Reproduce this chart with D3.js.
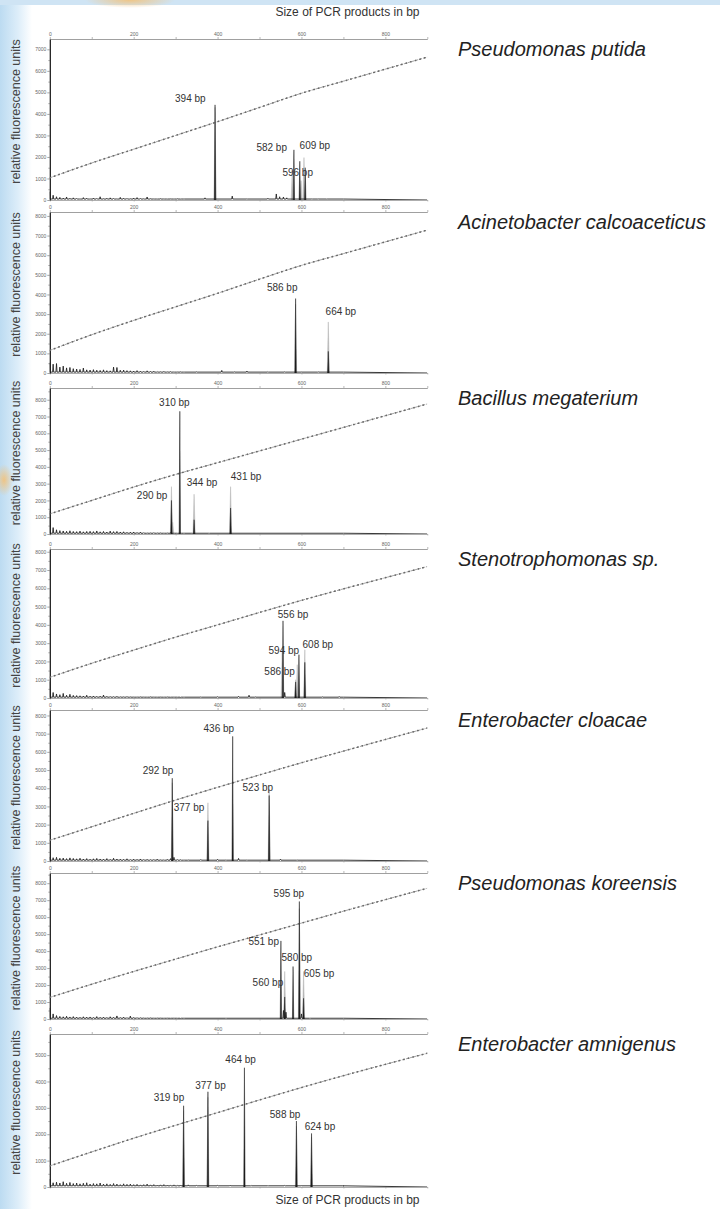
<!DOCTYPE html>
<html>
<head>
<meta charset="utf-8">
<title>PCR product size profiles</title>
<script src="https://cdn.jsdelivr.net/npm/d3@7/dist/d3.min.js"></script>
<style>
  html, body { margin: 0; padding: 0; background: #fff; }
  svg { display: block; font-family: "Liberation Sans", Arial, sans-serif; }
</style>
</head>
<body>
<div id="chart"></div>
<script>
// ---- data (bp = fragment size, rfu = relative fluorescence units) ----
var SPECIES = [
  'Pseudomonas putida',
  'Acinetobacter calcoaceticus',
  'Bacillus megaterium',
  'Stenotrophomonas sp.',
  'Enterobacter cloacae',
  'Pseudomonas koreensis',
  'Enterobacter amnigenus'
];

var X_TICKS = [0, 100, 200, 300, 400, 500, 600, 700, 800, 900];
var X_LABELS = [0, 200, 400, 600, 800];
var Y_TICK_MAX = [7000, 8000, 8000, 8000, 8000, 8000, 5000];
var Y_MAX = [7480, 8200, 8700, 8150, 8300, 8600, 5800];

// size standard curve, values at X_TICKS
var LADDER = [
  [1030, 1720, 2360, 3000, 3640, 4300, 4960, 5520, 6080, 6640],
  [1150, 1950, 2680, 3370, 4060, 4780, 5480, 6080, 6680, 7280],
  [1200, 2000, 2800, 3550, 4250, 4950, 5650, 6350, 7050, 7750],
  [1130, 1900, 2620, 3330, 4000, 4680, 5340, 5970, 6580, 7190],
  [1140, 1880, 2620, 3350, 4050, 4730, 5400, 6040, 6680, 7310],
  [1270, 2050, 2800, 3530, 4250, 4950, 5650, 6350, 7030, 7700],
  [800, 1330, 1850, 2340, 2820, 3300, 3770, 4220, 4650, 5070]
];

// called peaks [bp, rfu]
var PEAKS = [
  [[394, 4420], [582, 2330], [596, 1800], [609, 1500]],
  [[586, 3790], [664, 1100]],
  [[290, 2000], [310, 7310], [344, 850], [431, 1550]],
  [[556, 4220], [586, 880], [594, 2370], [608, 1950]],
  [[292, 4550], [377, 2220], [436, 6850], [523, 3600]],
  [[551, 4600], [560, 1300], [580, 3090], [595, 6920], [605, 1220]],
  [[319, 3080], [377, 3610], [464, 4520], [588, 2500], [624, 2030]]
];

// overlapping second trace (grey) [bp, rfu]
var SHADOW_PEAKS = [
  [[394, 4300], [578, 1400], [599, 900], [606, 1970]],
  [[586, 3500], [664, 2600]],
  [[290, 2820], [293, 700], [344, 2370], [431, 2820]],
  [[554, 2500], [586, 1000], [590, 1820], [608, 2640]],
  [[292, 4300], [377, 3200], [523, 3900]],
  [[560, 2800], [595, 6500], [605, 2800]],
  [[319, 2900], [377, 3400], [588, 2300], [624, 1900]]
];

// label centre of each peak call [bp, rfu]
var LABEL_AT = [
  [[335, 4700], [529, 2420], [591, 1260], [632, 2510]],
  [[554, 4330], [694, 3130]],
  [[244, 2270], [297, 7850], [363, 3050], [468, 3450]],
  [[580, 4550], [548, 1450], [558, 2580], [639, 2910]],
  [[258, 4960], [332, 2950], [403, 7280], [496, 4060]],
  [[510, 4560], [520, 2150], [589, 3650], [570, 7370], [642, 2660]],
  [[284, 3380], [383, 3860], [455, 4820], [561, 2760], [644, 2280]]
];

// baseline noise, sampled every 8 bp from 0 to 320
var NOISE_BP = d3.range(0, 321, 8);
var NOISE = [
  [380, 220, 150, 120, 90, 140, 80, 100, 70, 60, 110, 80, 60, 90, 70, 150, 60, 80, 100, 70, 60, 120, 80, 70, 60, 90, 110, 70, 60, 140, 60, 50, 40, 60, 50, 40, 50, 40, 60, 40, 50],
  [520, 450, 480, 300, 350, 260, 280, 220, 200, 180, 250, 160, 150, 170, 140, 130, 160, 120, 110, 300, 280, 140, 150, 120, 110, 100, 120, 90, 80, 110, 80, 90, 70, 60, 80, 60, 70, 60, 50, 60, 50],
  [1400, 380, 250, 200, 180, 160, 190, 150, 140, 170, 130, 150, 160, 140, 180, 130, 150, 120, 170, 140, 150, 120, 130, 100, 110, 120, 90, 110, 80, 70, 60, 80, 70, 60, 50, 60, 70, 50, 40, 60, 50],
  [900, 300, 220, 180, 250, 150, 200, 140, 130, 120, 110, 150, 100, 110, 90, 100, 160, 90, 80, 70, 90, 70, 60, 80, 60, 50, 70, 60, 50, 40, 60, 50, 40, 50, 40, 60, 40, 50, 40, 30, 40],
  [220, 180, 200, 150, 160, 130, 170, 140, 120, 150, 110, 130, 100, 120, 140, 110, 100, 130, 90, 150, 110, 100, 90, 120, 80, 100, 90, 110, 80, 90, 70, 80, 100, 60, 70, 90, 130, 200, 80, 70, 60],
  [650, 300, 200, 150, 130, 160, 120, 140, 110, 100, 130, 110, 120, 90, 140, 100, 110, 90, 130, 100, 180, 90, 110, 80, 170, 90, 80, 70, 60, 70, 60, 50, 60, 50, 40, 50, 40, 50, 40, 30, 40],
  [300, 160, 180, 150, 200, 140, 170, 130, 150, 120, 140, 160, 110, 130, 120, 150, 110, 120, 100, 130, 110, 90, 120, 100, 110, 90, 100, 80, 90, 110, 80, 90, 70, 80, 90, 70, 60, 80, 60, 70, 50]
];

// small stray peaks beyond the noise region [bp, rfu]
var MINOR = [
  [[370, 100], [435, 180], [470, 60], [520, 80], [540, 280], [548, 150], [557, 140], [565, 100], [625, 60], [640, 50], [660, 40]],
  [[350, 60], [410, 130], [440, 60], [470, 100], [520, 70], [560, 60], [600, 50], [640, 60]],
  [[340, 40], [380, 40]],
  [[360, 60], [400, 70], [450, 90], [475, 150], [490, 60], [560, 300], [650, 60], [690, 80]],
  [[330, 60], [360, 80], [400, 90], [420, 70], [450, 140], [470, 60], [550, 100], [590, 50]],
  [[420, 40], [557, 500], [563, 400], [600, 300], [620, 40]],
  [[330, 80], [350, 60], [400, 60], [430, 70], [480, 60], [520, 50], [560, 60], [600, 50], [700, 40]]
];

(function () {
  'use strict';

  var W = 720, H = 1209;
  // panel frame positions (pixels)
  var PANEL_TOP = [39, 212, 388, 549, 710, 873, 1034];
  var PANEL_BOTTOM = [200, 373, 534, 698, 861, 1019, 1187];

  var svg = d3.select('#chart').append('svg')
    .attr('width', W)
    .attr('height', H)
    .attr('viewBox', [0, 0, W, H]);

  var defs = svg.append('defs');

  // slide background: pale blue wash on the left and top edges
  var lg = defs.append('linearGradient').attr('id', 'leftWash')
    .attr('x1', 0).attr('x2', 1).attr('y1', 0).attr('y2', 0);
  lg.append('stop').attr('offset', '0%').attr('stop-color', '#bcdbf1');
  lg.append('stop').attr('offset', '55%').attr('stop-color', '#dcedf9');
  lg.append('stop').attr('offset', '100%').attr('stop-color', '#ffffff');

  var blob = defs.append('radialGradient').attr('id', 'orangeBlob');
  blob.append('stop').attr('offset', '0%').attr('stop-color', '#f3c27a').attr('stop-opacity', 0.9);
  blob.append('stop').attr('offset', '100%').attr('stop-color', '#f3c27a').attr('stop-opacity', 0);

  svg.append('rect').attr('width', W).attr('height', H).attr('fill', '#fff');
  svg.append('rect').attr('x', 0).attr('y', 0).attr('width', 32).attr('height', H)
    .attr('fill', 'url(#leftWash)');
  svg.append('rect').attr('x', 0).attr('y', 0).attr('width', W).attr('height', 5)
    .attr('fill', '#cfe4f4');
  svg.append('ellipse').attr('cx', 130).attr('cy', 0).attr('rx', 45).attr('ry', 8)
    .attr('fill', 'url(#orangeBlob)');
  svg.append('ellipse').attr('cx', 4).attr('cy', 480).attr('rx', 9).attr('ry', 16)
    .attr('fill', 'url(#orangeBlob)');

  var x = d3.scaleLinear().domain([0, 900]).range([49.8, 427.3]);

  // x axis captions
  svg.append('text')
    .attr('x', 347.5).attr('y', 16)
    .attr('text-anchor', 'middle')
    .attr('font-size', '12px')
    .attr('fill', '#333')
    .text('Size of PCR products in bp');
  svg.append('text')
    .attr('x', 347.5).attr('y', 1204)
    .attr('text-anchor', 'middle')
    .attr('font-size', '12px')
    .attr('fill', '#333')
    .text('Size of PCR products in bp');

  function spikes(list, y, half, base) {
    return list.map(function (p) {
      return 'M' + x(p[0] - half) + ',' + y(base) +
        'L' + x(p[0]) + ',' + y(p[1]) +
        'L' + x(p[0] + half) + ',' + y(base) + 'Z';
    }).join('');
  }

  SPECIES.forEach(function (name, i) {
    var top = PANEL_TOP[i], bottom = PANEL_BOTTOM[i];
    var y = d3.scaleLinear().domain([0, Y_MAX[i]]).range([bottom, top]);
    var g = svg.append('g').attr('class', 'panel');

    defs.append('clipPath').attr('id', 'clip' + i)
      .append('rect')
      .attr('x', x(0)).attr('y', top)
      .attr('width', x(900) - x(0)).attr('height', bottom - top);

    // top axis with size labels
    var topAxis = g.append('g')
      .attr('transform', 'translate(0,' + top + ')')
      .call(d3.axisTop(x)
        .tickValues(X_TICKS)
        .tickSize(2)
        .tickSizeOuter(0)
        .tickPadding(1.5)
        .tickFormat(function (d) { return X_LABELS.indexOf(d) >= 0 ? d : ''; }));
    topAxis.select('.domain').attr('stroke', '#888').attr('stroke-width', 0.8);
    topAxis.selectAll('.tick line').attr('stroke', '#888').attr('stroke-width', 0.6);
    topAxis.selectAll('text').attr('font-size', '5px').attr('fill', '#666')
      .attr('font-family', '"Liberation Sans", Arial, sans-serif');

    // bottom axis (ticks only)
    var botAxis = g.append('g')
      .attr('transform', 'translate(0,' + bottom + ')')
      .call(d3.axisBottom(x)
        .tickValues(X_TICKS)
        .tickSize(1.5)
        .tickSizeOuter(0)
        .tickFormat(''));
    botAxis.select('.domain').attr('stroke', '#999').attr('stroke-width', 0.8);
    botAxis.selectAll('.tick line').attr('stroke', '#999').attr('stroke-width', 0.6);

    // y axis
    var yTicks = d3.range(0, Y_TICK_MAX[i] + 1, 1000);
    var yMinor = d3.range(500, Y_MAX[i], 1000);
    var minorAxis = g.append('g')
      .attr('transform', 'translate(' + x(0) + ',0)')
      .call(d3.axisLeft(y).tickValues(yMinor).tickSize(1.5).tickSizeOuter(0).tickFormat(''));
    minorAxis.select('.domain').remove();
    minorAxis.selectAll('.tick line').attr('stroke', '#777').attr('stroke-width', 0.6);

    var leftAxis = g.append('g')
      .attr('transform', 'translate(' + x(0) + ',0)')
      .call(d3.axisLeft(y)
        .tickValues(yTicks)
        .tickSize(2.5)
        .tickSizeOuter(0)
        .tickPadding(1)
        .tickFormat(d3.format('d')));
    leftAxis.select('.domain').attr('stroke', '#111').attr('stroke-width', 1.2);
    leftAxis.selectAll('.tick line').attr('stroke', '#666').attr('stroke-width', 0.6);
    leftAxis.selectAll('text').attr('font-size', '5px').attr('fill', '#666')
      .attr('font-family', '"Liberation Sans", Arial, sans-serif');

    // y axis title
    var cy = (top + bottom) / 2 - 8;
    g.append('text')
      .attr('transform', 'translate(20,' + cy + ') rotate(-90)')
      .attr('text-anchor', 'middle')
      .attr('font-size', '12.5px')
      .attr('fill', '#444')
      .text('relative fluorescence units');

    var plot = g.append('g').attr('clip-path', 'url(#clip' + i + ')');

    // size standard curve: thin grey line plus small dot markers
    var ladderLine = d3.line()
      .x(function (d, k) { return x(X_TICKS[k]); })
      .y(function (d) { return y(d); })
      .curve(d3.curveMonotoneX);
    plot.append('path')
      .attr('d', ladderLine(LADDER[i]))
      .attr('fill', 'none')
      .attr('stroke', '#9a9a9a')
      .attr('stroke-width', 0.9)
      .attr('stroke-dasharray', '3,1');
    plot.append('path')
      .attr('d', ladderLine(LADDER[i]))
      .attr('fill', 'none')
      .attr('stroke', '#6a6a6a')
      .attr('stroke-width', 1.6)
      .attr('stroke-linecap', 'round')
      .attr('stroke-dasharray', '0.4,4.4');

    // grey overlapping trace
    plot.append('path')
      .attr('d', spikes(SHADOW_PEAKS[i], y, 2.6, 0))
      .attr('fill', '#b5b5b5')
      .attr('stroke', '#b5b5b5')
      .attr('stroke-width', 0.5);

    // noisy baseline
    var noise = NOISE_BP.map(function (b, k) { return [b, NOISE[i][k]]; })
      .concat(MINOR[i])
      .sort(function (a, b) { return a[0] - b[0]; });
    var base = 45;
    var dStr = 'M' + x(0) + ',' + y(base);
    noise.forEach(function (p) {
      dStr += 'L' + x(Math.max(0, p[0] - 1.3)) + ',' + y(base) +
        'L' + x(p[0]) + ',' + y(p[1]) +
        'L' + x(p[0] + 1.3) + ',' + y(base);
    });
    dStr += 'L' + x(700) + ',' + y(base) + 'L' + x(900) + ',' + y(0);
    plot.append('path')
      .attr('d', dStr)
      .attr('fill', 'none')
      .attr('stroke', '#222')
      .attr('stroke-width', 0.9)
      .attr('stroke-linejoin', 'round');

    // called peaks
    plot.append('path')
      .attr('d', spikes(PEAKS[i], y, 1.6, 0))
      .attr('fill', '#1c1c1c')
      .attr('stroke', '#1c1c1c')
      .attr('stroke-width', 0.5);

    // peak labels
    g.selectAll('.peak-label')
      .data(PEAKS[i])
      .join('text')
      .attr('class', 'peak-label')
      .attr('x', function (d, k) { return x(LABEL_AT[i][k][0]); })
      .attr('y', function (d, k) { return y(LABEL_AT[i][k][1]); })
      .attr('dy', '0.35em')
      .attr('text-anchor', 'middle')
      .attr('font-size', '10px')
      .attr('fill', '#333')
      .text(function (d) { return d[0] + ' bp'; });

    // species name
    g.append('text')
      .attr('x', 458)
      .attr('y', top + 17)
      .attr('font-size', '20px')
      .attr('font-style', 'italic')
      .attr('fill', '#222')
      .text(name);
  });
})();
</script>
</body>
</html>
